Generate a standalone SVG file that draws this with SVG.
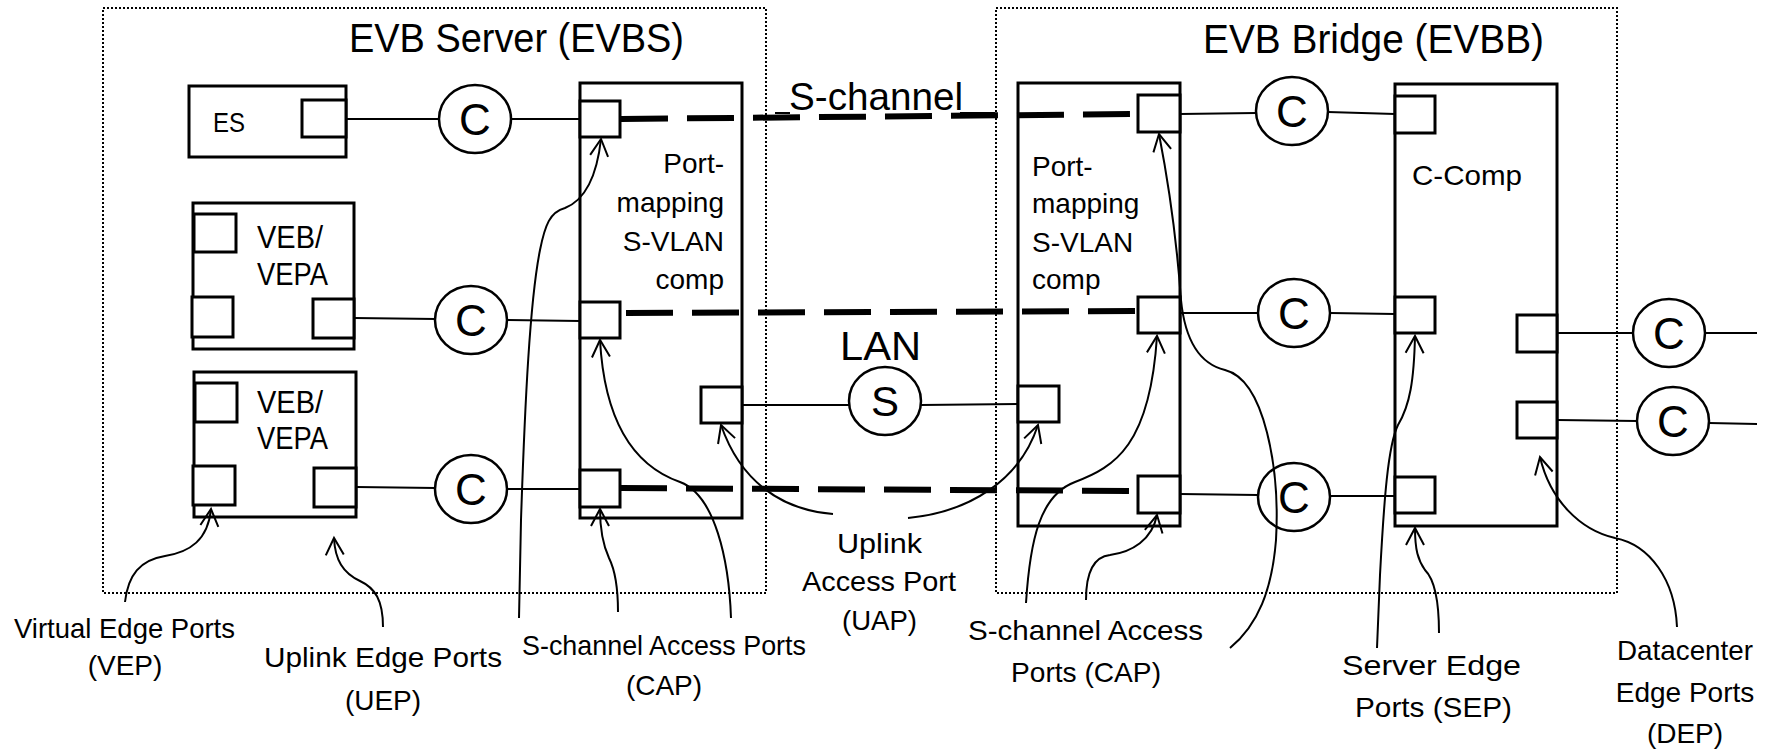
<svg xmlns="http://www.w3.org/2000/svg" width="1766" height="750" viewBox="0 0 1766 750">
<style>
  text { font-family: "Liberation Sans", Arial, sans-serif; fill: #000; }
  .box { fill: none; stroke: #000; stroke-width: 3; }
  .port { fill: #fff; stroke: #000; stroke-width: 3; }
  .circ { fill: #fff; stroke: #000; stroke-width: 2.5; }
  .ln { stroke: #000; stroke-width: 2; fill: none; }
  .dash { stroke: #000; stroke-width: 6; stroke-dasharray: 47 19; fill: none; }
  .dot { fill: none; stroke: #000; stroke-width: 2; stroke-dasharray: 2 2; }
  .ann { stroke: #000; stroke-width: 2; fill: none; marker-end: url(#arr); }
  .title { font-size: 40px; }
  .lbl { font-size: 28px; }
  .cl { font-size: 44px; text-anchor: middle; }
</style>
<defs>
  <marker id="arr" markerUnits="userSpaceOnUse" markerWidth="40" markerHeight="40" refX="0" refY="0" viewBox="-20 -20 40 40" orient="auto" overflow="visible">
    <path d="M-17,-9 L0,0 L-17,9" fill="none" stroke="#000" stroke-width="2"/>
  </marker>
</defs>
<rect width="1766" height="750" fill="#fff"/>

<g id="evbs-frame">
  <rect class="dot" x="103" y="8" width="663" height="585"/>
  <text class="title" x="349" y="52" textLength="335" lengthAdjust="spacingAndGlyphs">EVB Server (EVBS)</text>
</g>
<g id="evbb-frame">
  <rect class="dot" x="996" y="8" width="621" height="585"/>
  <text class="title" x="1203" y="53" textLength="341" lengthAdjust="spacingAndGlyphs">EVB Bridge (EVBB)</text>
</g>

<g id="es">
  <rect class="box" x="189" y="86" width="157" height="71"/>
  <rect class="port" x="302" y="100" width="44" height="37"/>
  <text class="lbl" x="213" y="132" textLength="32" lengthAdjust="spacingAndGlyphs">ES</text>
</g>

<g id="veb1">
  <rect class="box" x="193" y="203" width="161" height="146"/>
  <rect class="port" x="194" y="214" width="42" height="38"/>
  <rect class="port" x="192" y="297" width="41" height="40"/>
  <rect class="port" x="313" y="299" width="41" height="39"/>
  <text x="257" y="248" font-size="32" textLength="66" lengthAdjust="spacingAndGlyphs">VEB/</text>
  <text x="257" y="285" font-size="32" textLength="71" lengthAdjust="spacingAndGlyphs">VEPA</text>
</g>

<g id="veb2">
  <rect class="box" x="194" y="372" width="162" height="145"/>
  <rect class="port" x="195" y="383" width="42" height="39"/>
  <rect class="port" x="193" y="466" width="42" height="39"/>
  <rect class="port" x="314" y="468" width="42" height="39"/>
  <text x="257" y="413" font-size="32" textLength="66" lengthAdjust="spacingAndGlyphs">VEB/</text>
  <text x="257" y="449" font-size="32" textLength="71" lengthAdjust="spacingAndGlyphs">VEPA</text>
</g>

<g id="pm-evbs">
  <rect class="box" x="580" y="83" width="162" height="435"/>
  <rect class="port" x="580" y="101" width="40" height="36"/>
  <rect class="port" x="580" y="302" width="40" height="36"/>
  <rect class="port" x="580" y="470" width="40" height="37"/>
  <rect class="port" x="701" y="387" width="41" height="36"/>
  <g class="lbl" text-anchor="end">
    <text x="724" y="173">Port-</text>
    <text x="724" y="212">mapping</text>
    <text x="724" y="251">S-VLAN</text>
    <text x="724" y="289">comp</text>
  </g>
</g>

<g id="pm-evbb">
  <rect class="box" x="1018" y="83" width="162" height="443"/>
  <rect class="port" x="1138" y="95" width="42" height="37"/>
  <rect class="port" x="1138" y="297" width="42" height="36"/>
  <rect class="port" x="1138" y="476" width="42" height="37"/>
  <rect class="port" x="1018" y="386" width="41" height="36"/>
  <g class="lbl">
    <text x="1032" y="176">Port-</text>
    <text x="1032" y="213">mapping</text>
    <text x="1032" y="252">S-VLAN</text>
    <text x="1032" y="289">comp</text>
  </g>
</g>

<g id="c-comp">
  <rect class="box" x="1395" y="84" width="162" height="442"/>
  <rect class="port" x="1395" y="96" width="40" height="37"/>
  <rect class="port" x="1395" y="297" width="40" height="36"/>
  <rect class="port" x="1395" y="477" width="40" height="36"/>
  <rect class="port" x="1517" y="315" width="40" height="37"/>
  <rect class="port" x="1517" y="402" width="40" height="36"/>
  <text class="lbl" x="1412" y="185" textLength="110" lengthAdjust="spacingAndGlyphs">C-Comp</text>
</g>

<g id="connectors">
  <line class="ln" x1="346" y1="119" x2="438" y2="119"/>
  <line class="ln" x1="511" y1="119" x2="580" y2="119"/>
  <line class="ln" x1="354" y1="318" x2="436" y2="319"/>
  <line class="ln" x1="507" y1="320" x2="580" y2="321"/>
  <line class="ln" x1="356" y1="487" x2="436" y2="488"/>
  <line class="ln" x1="507" y1="489" x2="580" y2="489"/>
  <line class="ln" x1="742" y1="405" x2="849" y2="405"/>
  <line class="ln" x1="921" y1="405" x2="1018" y2="404"/>
  <line class="ln" x1="1180" y1="114" x2="1256" y2="113"/>
  <line class="ln" x1="1328" y1="112" x2="1395" y2="114"/>
  <line class="ln" x1="1180" y1="313" x2="1258" y2="313"/>
  <line class="ln" x1="1330" y1="313" x2="1395" y2="314"/>
  <line class="ln" x1="1180" y1="494" x2="1258" y2="495"/>
  <line class="ln" x1="1330" y1="496" x2="1395" y2="496"/>
  <line class="ln" x1="1557" y1="333" x2="1633" y2="333"/>
  <line class="ln" x1="1705" y1="333" x2="1757" y2="333"/>
  <line class="ln" x1="1557" y1="420" x2="1637" y2="421"/>
  <line class="ln" x1="1709" y1="423" x2="1757" y2="424"/>
  <line class="dash" x1="621" y1="119" x2="1138" y2="114"/>
  <line class="dash" x1="626" y1="313" x2="1138" y2="311"/>
  <line class="dash" x1="620" y1="488" x2="1138" y2="491"/>
</g>

<g id="c-evbs-1"><ellipse class="circ" cx="475" cy="119" rx="36" ry="34"/><text class="cl" x="475" y="135">C</text></g>
<g id="c-evbs-2"><ellipse class="circ" cx="471" cy="320" rx="36" ry="34"/><text class="cl" x="471" y="336">C</text></g>
<g id="c-evbs-3"><ellipse class="circ" cx="471" cy="489" rx="36" ry="34"/><text class="cl" x="471" y="505">C</text></g>

<g id="lan">
  <ellipse class="circ" cx="885" cy="401" rx="36" ry="34"/>
  <text x="885" y="416" font-size="42" text-anchor="middle">S</text>
  <text x="840" y="360" font-size="40" textLength="81" lengthAdjust="spacingAndGlyphs">LAN</text>
</g>

<g id="c-evbb-1"><ellipse class="circ" cx="1292" cy="111" rx="36" ry="34"/><text class="cl" x="1292" y="127">C</text></g>
<g id="c-evbb-2"><ellipse class="circ" cx="1294" cy="313" rx="36" ry="34"/><text class="cl" x="1294" y="329">C</text></g>
<g id="c-evbb-3"><ellipse class="circ" cx="1294" cy="497" rx="36" ry="34"/><text class="cl" x="1294" y="513">C</text></g>

<g id="c-dep-1"><ellipse class="circ" cx="1669" cy="333" rx="36" ry="34"/><text class="cl" x="1669" y="349">C</text></g>
<g id="c-dep-2"><ellipse class="circ" cx="1673" cy="421" rx="36" ry="34"/><text class="cl" x="1673" y="437">C</text></g>

<g id="s-channel-label">
  <line class="ln" x1="775" y1="113" x2="790" y2="113"/>
  <line class="ln" x1="960" y1="113" x2="995" y2="113"/>
  <text x="789" y="110" font-size="39" textLength="174" lengthAdjust="spacingAndGlyphs">S-channel</text>
</g>

<g id="annotations">
  <path class="ann" d="M125,602 C128,575 140,560 165,556 C190,552 208,540 211,509"/>
  <path class="ann" d="M383,627 C383,600 375,588 360,581 C343,573 335,560 334,538"/>
  <path class="ann" d="M519,618 L521,520 C525,400 530,300 540,250 C545,225 550,212 565,208 C585,200 597,175 601,139"/>
  <path class="ann" d="M618,612 C618,585 614,568 609,558 C603,545 600,530 600,509"/>
  <path class="ann" d="M731,618 C729,560 715,495 680,482 C640,468 605,430 600,340"/>
  <path class="ann" d="M833,514 C780,510 740,480 721,425"/>
  <path class="ann" d="M908,518 C970,512 1020,480 1038,425"/>
  <path class="ann" d="M1026,603 C1030,540 1040,495 1075,482 C1115,467 1150,445 1157,336"/>
  <path class="ann" d="M1086,600 C1086,575 1092,557 1110,555 C1132,552 1152,540 1157,515"/>
  <path class="ann" d="M1230,648 C1258,625 1272,590 1276,540 C1280,470 1265,380 1225,370 C1200,364 1185,340 1181,300 C1176,230 1166,170 1159,134"/>
  <path class="ann" d="M1377,648 L1380,575 C1384,500 1388,445 1398,425 C1410,405 1414,380 1415,336"/>
  <path class="ann" d="M1439,633 C1439,600 1435,580 1425,570 C1418,560 1415,550 1415,528"/>
  <path class="ann" d="M1677,627 C1675,580 1650,545 1615,538 C1580,530 1550,500 1540,457"/>
</g>

<g id="labels" class="lbl">
  <text x="14" y="638" textLength="221" lengthAdjust="spacingAndGlyphs">Virtual Edge Ports</text>
  <text x="125" y="675" text-anchor="middle">(VEP)</text>
  <text x="264" y="667" textLength="238" lengthAdjust="spacingAndGlyphs">Uplink Edge Ports</text>
  <text x="383" y="710" text-anchor="middle">(UEP)</text>
  <text x="522" y="655" textLength="284" lengthAdjust="spacingAndGlyphs">S-channel Access Ports</text>
  <text x="664" y="695" text-anchor="middle">(CAP)</text>
  <text x="837" y="553" textLength="85" lengthAdjust="spacingAndGlyphs">Uplink</text>
  <text x="802" y="591" textLength="154" lengthAdjust="spacingAndGlyphs">Access Port</text>
  <text x="842" y="630" textLength="75" lengthAdjust="spacingAndGlyphs">(UAP)</text>
  <text x="968" y="640" textLength="235" lengthAdjust="spacingAndGlyphs">S-channel Access</text>
  <text x="1011" y="682" textLength="150" lengthAdjust="spacingAndGlyphs">Ports (CAP)</text>
  <text x="1342" y="675" textLength="179" lengthAdjust="spacingAndGlyphs">Server Edge</text>
  <text x="1355" y="717" textLength="157" lengthAdjust="spacingAndGlyphs">Ports (SEP)</text>
  <text x="1617" y="660" textLength="136" lengthAdjust="spacingAndGlyphs">Datacenter</text>
  <text x="1685" y="702" text-anchor="middle">Edge Ports</text>
  <text x="1685" y="743" text-anchor="middle">(DEP)</text>
</g>
</svg>
